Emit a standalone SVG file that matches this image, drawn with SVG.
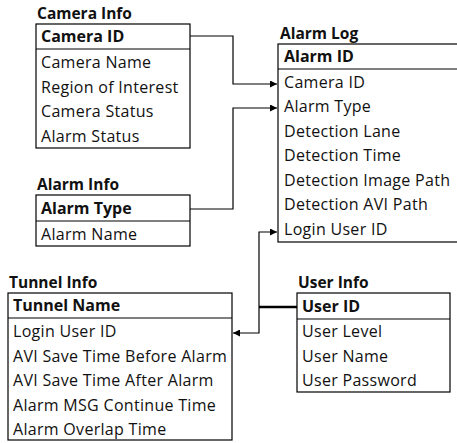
<svg xmlns="http://www.w3.org/2000/svg" width="457" height="443" viewBox="0 0 457 443">
  <defs>
    <marker id="arrow" viewBox="0 0 10 10" refX="10" refY="5" markerWidth="7" markerHeight="7" orient="auto-start-reverse" markerUnits="userSpaceOnUse">
      <path d="M0,0 L10,5 L0,10 z" fill="#000"/>
    </marker>
  </defs>
  <style>
    text { font-family: "Open Sans", "Noto Sans", "Liberation Sans", sans-serif; font-size: 16px; letter-spacing: 0.3px; fill: #111; }
    .title { font-weight: bold; font-size: 15.5px; letter-spacing: 0; }
    .key { font-weight: bold; letter-spacing: 0; }
    .box { fill: #fff; stroke: #000; stroke-width: 1.2; }
    .sep { stroke: #000; stroke-width: 1.2; }
    .conn { fill: none; stroke: #000; stroke-width: 1.2; }
    .thick { fill: none; stroke: #000; stroke-width: 2.5; }
  </style>
  <rect width="457" height="443" fill="#fff"/>

  <!-- relationship lines -->
  <g id="connectors">
    <polyline class="conn" points="190,36 233,36 233,84 277,84" marker-end="url(#arrow)"/>
    <polyline class="conn" points="190,209 233,209 233,108 277,108" marker-end="url(#arrow)"/>
    <polyline class="conn" points="277,232 259,232 259,333 233,333" marker-start="url(#arrow)" marker-end="url(#arrow)"/>
    <line class="thick" x1="259" y1="307" x2="297" y2="307"/>
  </g>

  <g id="camera-info">
    <text class="title" x="37" y="19">Camera Info</text>
    <rect class="box" x="36" y="24" width="154" height="124"/>
    <line class="sep" x1="36" y1="49" x2="190" y2="49"/>
    <text class="key" x="41" y="42">Camera ID</text>
    <text x="41" y="68">Camera Name</text>
    <text x="41" y="93">Region of Interest</text>
    <text x="41" y="117">Camera Status</text>
    <text x="41" y="142">Alarm Status</text>
  </g>

  <g id="alarm-log">
    <text class="title" x="280" y="39">Alarm Log</text>
    <rect class="box" x="278" y="44" width="185" height="198"/>
    <line class="sep" x1="278" y1="69" x2="457" y2="69"/>
    <text class="key" x="284" y="62">Alarm ID</text>
    <text x="284" y="88">Camera ID</text>
    <text x="284" y="112">Alarm Type</text>
    <text x="284" y="137">Detection Lane</text>
    <text x="284" y="161">Detection Time</text>
    <text x="284" y="186">Detection Image Path</text>
    <text x="284" y="210">Detection AVI Path</text>
    <text x="284" y="235">Login User ID</text>
  </g>

  <g id="alarm-info">
    <text class="title" x="37" y="190">Alarm Info</text>
    <rect class="box" x="36" y="195" width="154" height="51"/>
    <line class="sep" x1="36" y1="221" x2="190" y2="221"/>
    <text class="key" x="41" y="214">Alarm Type</text>
    <text x="41" y="240">Alarm Name</text>
  </g>

  <g id="tunnel-info">
    <text class="title" x="9" y="288">Tunnel Info</text>
    <rect class="box" x="8" y="293" width="224" height="147"/>
    <line class="sep" x1="8" y1="318" x2="232" y2="318"/>
    <text class="key" x="13" y="311">Tunnel Name</text>
    <text x="13" y="337">Login User ID</text>
    <text x="13" y="362">AVI Save Time Before Alarm</text>
    <text x="13" y="386">AVI Save Time After Alarm</text>
    <text x="13" y="411">Alarm MSG Continue Time</text>
    <text x="13" y="435">Alarm Overlap Time</text>
  </g>

  <g id="user-info">
    <text class="title" x="298" y="288">User Info</text>
    <rect class="box" x="297" y="293" width="153" height="99"/>
    <line class="sep" x1="297" y1="319" x2="450" y2="319"/>
    <text class="key" x="302" y="312">User ID</text>
    <text x="302" y="337">User Level</text>
    <text x="302" y="362">User Name</text>
    <text x="302" y="386">User Password</text>
  </g>
</svg>
